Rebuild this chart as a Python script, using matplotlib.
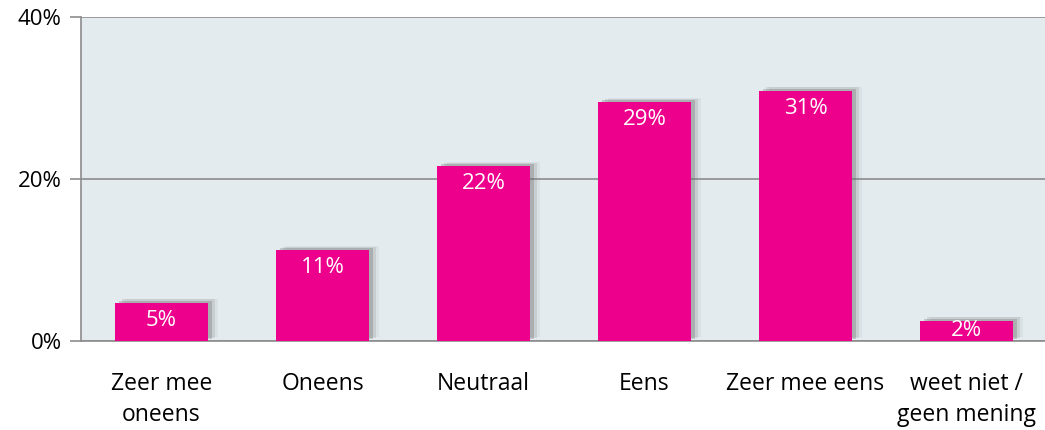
import matplotlib.pyplot as plt
import matplotlib.patheffects as pe
from matplotlib.ticker import FuncFormatter

categories = ["Zeer mee\noneens", "Oneens", "Neutraal", "Eens", "Zeer mee eens",
              "weet niet /\ngeen mening"]
values = [4.7, 11.2, 21.6, 29.5, 30.9, 2.5]
labels = ["5%", "11%", "22%", "29%", "31%", "2%"]

plt.rcParams["font.family"] = ["Open Sans", "DejaVu Sans"]

fig = plt.figure(figsize=(10.45, 4.3), dpi=100)
ax = fig.add_axes([81 / 1045, 1 - 341 / 430, 966 / 1045, 324 / 430])
ax.set_facecolor("#e3ebef")

x = range(len(categories))
bars = ax.bar(x, values, width=0.58, color="#ec008c", zorder=3)
for b in bars:
    # soft drop shadow, a few layers
    b.set_path_effects([
        pe.SimplePatchShadow(offset=(7, 3), shadow_rgbFace="#999999", alpha=0.12),
        pe.SimplePatchShadow(offset=(5, 2.5), shadow_rgbFace="#777777", alpha=0.18),
        pe.SimplePatchShadow(offset=(3, 1.5), shadow_rgbFace="#555555", alpha=0.25),
        pe.Normal(),
    ])

for xi, v, lab in zip(x, values, labels):
    if v < 4:
        # too short: centre the label in the bar
        ax.annotate(lab, (xi, v / 2), ha="center", va="center", color="white",
                    fontsize=16, zorder=4)
    else:
        ax.annotate(lab, (xi, v), xytext=(0, -5), textcoords="offset points",
                    ha="center", va="top", color="white", fontsize=16, zorder=4)

ax.set_xlim(-0.5, len(categories) - 0.5)
ax.set_ylim(0, 40)
ax.set_yticks([0, 20, 40])
ax.yaxis.set_major_formatter(FuncFormatter(lambda v, p: f"{v:.0f}%"))
ax.yaxis.grid(True, color="#8c8c8c", linewidth=1.2, zorder=1)
ax.set_axisbelow(True)
ax.set_xticks(list(x))
ax.set_xticklabels(categories, fontsize=16.5, linespacing=1.4)
ax.tick_params(axis="x", length=0, pad=22)
ax.tick_params(axis="y", length=8, width=1.2, color="#8c8c8c", labelsize=16, pad=6)

for s in ["top", "right"]:
    ax.spines[s].set_visible(False)
for s in ["left", "bottom"]:
    ax.spines[s].set_color("#8c8c8c")
    ax.spines[s].set_linewidth(1.2)

fig.savefig("out.png", dpi=100)
